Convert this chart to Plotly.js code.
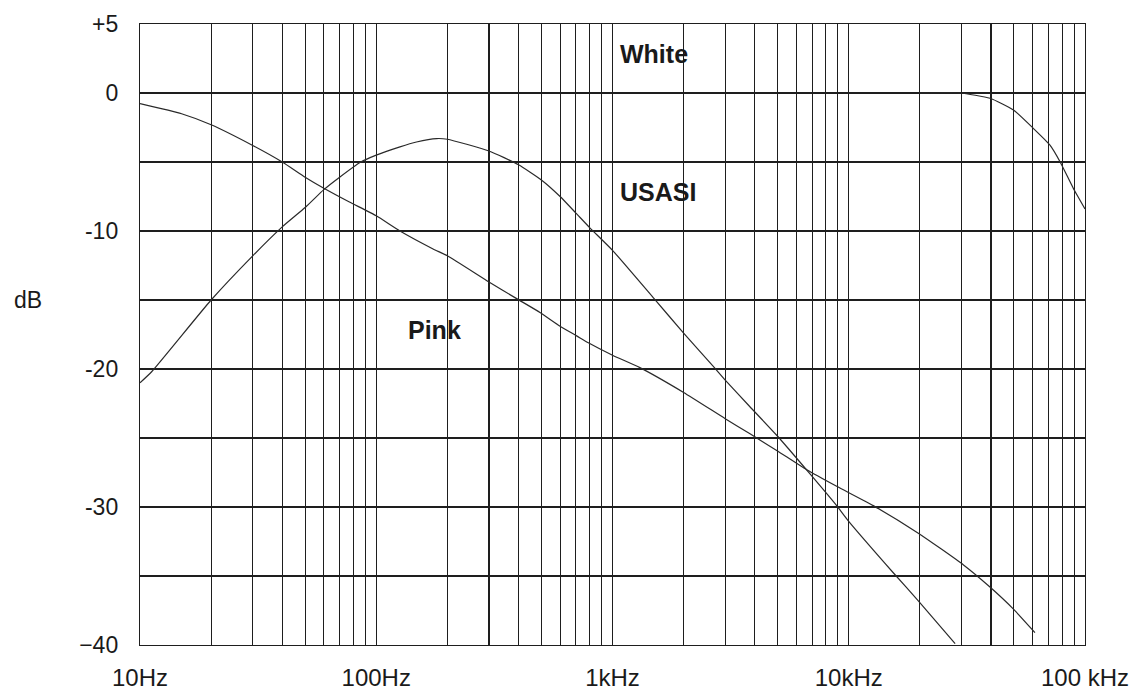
<!DOCTYPE html>
<html>
<head>
<meta charset="utf-8">
<script src="https://cdn.plot.ly/plotly-3.0.1.min.js"></script>
<style>html,body{margin:0;padding:0;background:#fff;}#chart{width:1139px;height:690px;}</style>
</head>
<body>
<div id="chart"></div>
<script>
// Frequencies in Hz, levels in dB
const pinkFreq = [10, 15, 20, 30, 40, 50, 60, 77, 100, 126, 174, 200, 300, 393, 493, 600, 705, 790, 1000, 1306, 2000, 3000, 3820, 4955, 6640, 8890, 12700, 19700, 30600, 39600, 49800, 61400];
const pinkDb   = [-0.77, -1.5, -2.3, -3.8, -5.0, -6.1, -6.9, -7.9, -8.9, -10.0, -11.3, -11.8, -13.7, -14.9, -15.9, -16.9, -17.6, -18.1, -19.0, -19.9, -21.7, -23.6, -24.7, -25.9, -27.3, -28.5, -29.9, -31.9, -34.2, -35.8, -37.4, -39.1];

const usasiFreq = [10, 11.2, 20, 30, 40, 50, 60, 70, 86, 100, 126, 148, 180, 200, 300, 400, 500, 600, 700, 800, 1000, 1500, 2000, 2700, 3000, 3800, 4955, 6855, 8890, 9955, 15500, 19700, 28200];
const usasiDb   = [-21.0, -20.2, -15.0, -11.8, -9.7, -8.3, -7.0, -6.1, -5.0, -4.5, -3.9, -3.55, -3.3, -3.35, -4.2, -5.2, -6.3, -7.5, -8.7, -9.75, -11.4, -14.9, -17.4, -19.9, -20.8, -22.7, -24.8, -27.6, -29.9, -31.0, -34.8, -36.8, -39.9];

const whiteFreq = [20000, 29600, 39600, 49800, 60400, 71100, 78400, 89200, 100000];
const whiteDb   = [0, 0, -0.38, -1.23, -2.56, -3.78, -4.98, -6.9, -8.4];

// Axis ticks / grid
const xGrid = [];
[10, 100, 1000, 10000].forEach(d => { for (let k = 1; k <= 9; k++) xGrid.push(d * k); });
xGrid.push(100000);
const xLabelMap = {10: "10Hz", 100: "100Hz", 1000: "1kHz", 10000: "10kHz", 100000: "100 kHz"};
const xText = xGrid.map(v => xLabelMap[v] || "");

const yGrid = [5, 0, -5, -10, -15, -20, -25, -30, -35, -40];
const yLabelMap = {"5": "+5", "0": "0", "-10": "-10", "-20": "-20", "-30": "-30", "-40": "\u221240"};
const yText = yGrid.map(v => yLabelMap[String(v)] || "");

const curveLabels = ["White", "USASI", "Pink"];

const lineStyle = {color: "#2a2a2a", width: 1.2, shape: "spline", smoothing: 0.5};
const traces = [
  {x: pinkFreq, y: pinkDb, mode: "lines", line: lineStyle, hoverinfo: "skip", name: "Pink"},
  {x: usasiFreq, y: usasiDb, mode: "lines", line: lineStyle, hoverinfo: "skip", name: "USASI"},
  {x: whiteFreq, y: whiteDb, mode: "lines", line: lineStyle, hoverinfo: "skip", name: "White"}
];

const font = {family: "Liberation Sans, Arial, Helvetica, sans-serif", color: "#1a1a1a"};
const labelFont = Object.assign({}, font, {size: 25});

const layout = {
  width: 1139, height: 690,
  margin: {l: 140, r: 54, t: 24, b: 45, pad: 0},
  paper_bgcolor: "#fff", plot_bgcolor: "#fff",
  showlegend: false,
  font: Object.assign({}, font, {size: 22}),
  xaxis: {
    type: "log", range: [1, 5],
    tickmode: "array", tickvals: xGrid, ticktext: xText,
    showgrid: true, gridcolor: "#1e1e1e", gridwidth: 1.1,
    showline: true, linecolor: "#1e1e1e", linewidth: 1.2, mirror: true,
    ticks: "outside", ticklen: 11, tickcolor: "rgba(0,0,0,0)",
    zeroline: false, tickfont: Object.assign({}, font, {size: 24})
  },
  yaxis: {
    range: [-40, 5],
    tickmode: "array", tickvals: yGrid, ticktext: yText,
    showgrid: true, gridcolor: "#1e1e1e", gridwidth: 1.1,
    showline: true, linecolor: "#1e1e1e", linewidth: 1.2, mirror: true,
    ticks: "outside", ticklen: 16, tickcolor: "rgba(0,0,0,0)",
    zeroline: false, tickfont: Object.assign({}, font, {size: 23})
  },
  annotations: [
    {text: "dB", xref: "paper", yref: "paper", x: -0.118, y: 0.555, xanchor: "center", yanchor: "middle", showarrow: false, font: Object.assign({}, font, {size: 23})},
    {text: "<b>" + curveLabels[0] + "</b>", xref: "x", yref: "y", x: 3.023, y: 2.8, xanchor: "left", yanchor: "middle", showarrow: false, font: labelFont},
    {text: "<b>" + curveLabels[1] + "</b>", xref: "x", yref: "y", x: 3.023, y: -7.15, xanchor: "left", yanchor: "middle", showarrow: false, font: labelFont},
    {text: "<b>" + curveLabels[2] + "</b>", xref: "x", yref: "y", x: 2.126, y: -17.2, xanchor: "left", yanchor: "middle", showarrow: false, font: labelFont}
  ]
};

Plotly.newPlot("chart", traces, layout, {staticPlot: true, displayModeBar: false});
</script>
</body>
</html>
